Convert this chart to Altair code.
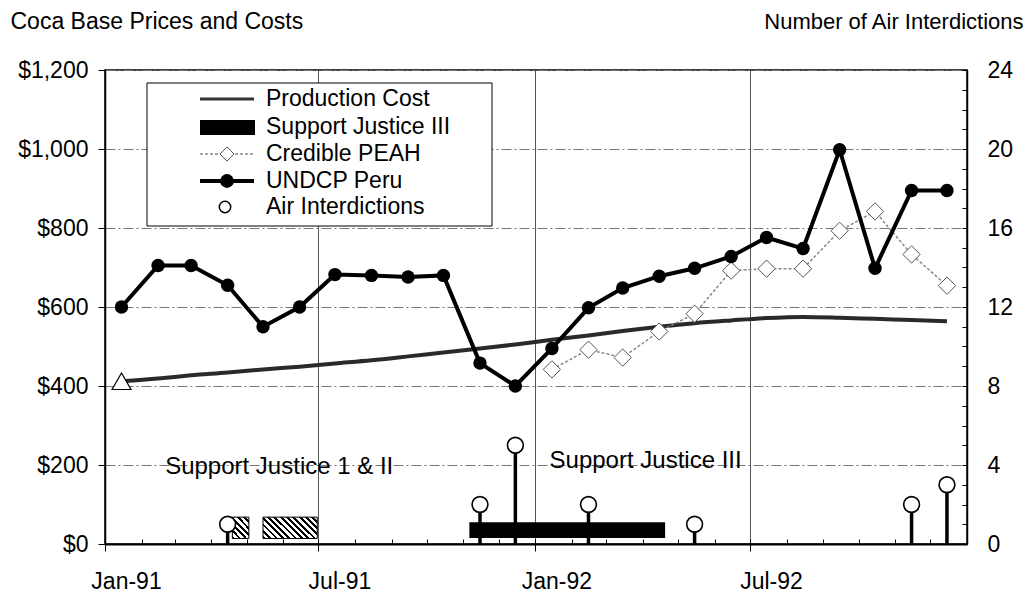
import altair as alt
import pandas as pd

FONT = "Liberation Sans"

# ---------------- data ----------------
months = ["1991-01-15", "1991-02-15", "1991-03-15", "1991-04-15", "1991-05-15", "1991-06-15",
          "1991-07-15", "1991-08-15", "1991-09-15", "1991-10-15", "1991-11-15", "1991-12-15",
          "1992-01-15", "1992-02-15", "1992-03-15", "1992-04-15", "1992-05-15", "1992-06-15",
          "1992-07-15", "1992-08-15", "1992-09-15", "1992-10-15", "1992-11-15", "1992-12-15"]
production_cost = [412, 419, 427, 434, 442, 449, 457, 465, 475, 485, 495, 505,
                   517, 528, 539, 550, 559, 566, 572, 575, 573, 570, 567, 564]
undcp_peru = [600, 705, 705, 655, 550, 600, 682, 680, 676, 680, 458, 400,
              495, 598, 648, 678, 698, 728, 776, 748, 998, 698, 895, 895]
peah_months = months[12:]
credible_peah = [442, 492, 472, 538, 583, 692, 697, 697, 793, 842, 733, 654]

air_months = ["1991-04-15", "1991-11-15", "1991-12-15", "1992-02-15", "1992-05-15",
              "1992-11-15", "1992-12-15"]
air_counts = [1, 2, 5, 2, 1, 2, 3]

sj12_start = ["1991-04-19", "1991-05-15"]
sj12_end = ["1991-05-03", "1991-06-30"]
sj12_low = [14, 14]
sj12_high = [68, 68]

sj3_start = ["1991-11-06"]
sj3_end = ["1992-04-20"]
sj3_low = [15]
sj3_high = [55]

ann_text = ["Support Justice 1 & II", "Support Justice III"]
ann_date = ["1991-02-21", "1992-01-13"]
ann_value = [195, 210]

legend_labels = ["Production Cost", "Support Justice III", "Credible PEAH", "UNDCP Peru", "Air Interdictions"]

price_ticks = [0, 200, 400, 600, 800, 1000, 1200]
count_labels = [0, 4, 8, 12, 16, 20, 24]
count_ticks = list(range(0, 25))

# ---------------- tables ----------------
df_main = pd.DataFrame({"date": months, "cost": production_cost, "undcp": undcp_peru})
df_tri = df_main.iloc[[0]]
df_peah = pd.DataFrame({"date": peah_months, "peah": credible_peah})
df_air = pd.DataFrame({"date": air_months, "count": air_counts})
df_sj1 = pd.DataFrame({"start": sj12_start[:1], "end": sj12_end[:1], "low": sj12_low[:1], "high": sj12_high[:1]})
df_sj2 = pd.DataFrame({"start": sj12_start[1:], "end": sj12_end[1:], "low": sj12_low[1:], "high": sj12_high[1:]})
df_sj3 = pd.DataFrame({"start": sj3_start, "end": sj3_end, "low": sj3_low, "high": sj3_high})
df_ann = pd.DataFrame({"date": ann_date, "value": ann_value, "text": ann_text})
one = pd.DataFrame({"k": [0]})


def dt(y, m, d=1):
    return alt.DateTime(year=y, month=m, date=d, utc=True)


x_scale = alt.Scale(type="utc", domain=[dt(1991, 1), dt(1993, 1)])

main_x_axis = alt.Axis(
    values=[dt(1991, 1), dt(1991, 7), dt(1992, 1), dt(1992, 7)],
    format="%b-%y", title=None, labelFontSize=23, labelFont=FONT, labelColor="black",
    labelOffset=21, labelPadding=19, tickSize=7, tickColor="black", tickWidth=1,
    domainColor="black", domainWidth=2, grid=True, gridColor="#555", gridWidth=1,
    labelFlush=False, labelOverlap=False,
)
minor_x_axis = alt.Axis(
    orient="top", offset=-474,
    values=[dt(1991 + (i // 12), (i % 12) + 1) for i in range(1, 24)],
    labels=False, domain=False, grid=False, ticks=True, tickSize=5,
    tickColor="black", tickWidth=1, title=None,
)

X = alt.X("date:T", scale=x_scale, axis=main_x_axis)
Xm = alt.X("date:T", scale=x_scale, axis=minor_x_axis)

y_price_scale = alt.Scale(domain=[0, 1200], nice=False)
price_axis = alt.Axis(
    values=price_ticks, format="$,.0f", labelFontSize=23, labelFont=FONT, labelColor="black",
    labelPadding=10, tickSize=7, tickColor="black", domainColor="black", domainWidth=1.5,
    grid=True, gridColor="#777", gridDash=[10, 3, 2, 3], gridWidth=1,
    title="Coca Base Prices and Costs", titleAngle=0, titleX=-95, titleY=-42,
    titleAlign="left", titleBaseline="alphabetic", titleFontSize=23, titleFont=FONT,
    titleFontWeight="normal", titleColor="black",
)
Yp = lambda f: alt.Y(f, scale=y_price_scale, axis=price_axis)

y_count_scale = alt.Scale(domain=[0, 24], nice=False)
count_axis = alt.Axis(
    orient="right", values=count_labels, ticks=False, labelPadding=20, labelAlign="left",
    labelFontSize=23, labelFont=FONT, labelColor="black", domainColor="black", domainWidth=1.5,
    grid=False, title="Number of Air Interdictions", titleAngle=0, titleX=56, titleY=-42,
    titleAlign="right", titleBaseline="alphabetic", titleFontSize=22, titleFont=FONT,
    titleFontWeight="normal", titleColor="black",
)
count_tick_axis = alt.Axis(
    orient="left", offset=-862, values=count_ticks, labels=False, domain=False, grid=False,
    ticks=True, tickSize=5, tickColor="black", title=None,
)


def hatch(W, H, period=6.0, black=0.45):
    c = (W + H) / (W * W + H * H)
    n = max(1, round((W + H) / period))
    stops = []
    for i in range(n):
        a, b, e = i / n, (i + black) / n, (i + 1) / n
        stops += [alt.GradientStop(offset=a, color="black"), alt.GradientStop(offset=b, color="black"),
                  alt.GradientStop(offset=b, color="white"), alt.GradientStop(offset=e, color="white")]
    return alt.LinearGradient(gradient="linear", stops=stops, x1=0, y1=1, x2=c * W, y2=1 - c * H)


# ---------------- price layers ----------------
sj1 = alt.Chart(df_sj1).mark_rect(fill=hatch(17, 21), stroke="black", strokeWidth=1).encode(
    x=alt.X("start:T", scale=x_scale, axis=main_x_axis), x2="end:T",
    y=alt.Y("low:Q", scale=y_price_scale, axis=price_axis), y2="high:Q")
sj2 = alt.Chart(df_sj2).mark_rect(fill=hatch(53, 21), stroke="black", strokeWidth=1).encode(
    x=alt.X("start:T", scale=x_scale, axis=main_x_axis), x2="end:T",
    y=alt.Y("low:Q", scale=y_price_scale, axis=price_axis), y2="high:Q")
sj3 = alt.Chart(df_sj3).mark_rect(color="black").encode(
    x=alt.X("start:T", scale=x_scale, axis=main_x_axis), x2="end:T",
    y=alt.Y("low:Q", scale=y_price_scale, axis=price_axis), y2="high:Q")

cost_line = alt.Chart(df_main).mark_line(color="#2a2a2a", strokeWidth=4, interpolate="monotone").encode(
    x=X, y=Yp("cost:Q"))
cost_tri = alt.Chart(df_tri).mark_point(shape="triangle-up", size=360, filled=True, fill="white",
                                        stroke="black", strokeWidth=1.2, opacity=1).encode(
    x=X, y=Yp("cost:Q"))
peah_line = alt.Chart(df_peah).mark_line(color="#888", strokeWidth=1.5, strokeDash=[3, 2]).encode(
    x=X, y=Yp("peah:Q"))
peah_pts = alt.Chart(df_peah).mark_point(shape="diamond", size=300, filled=True, fill="white",
                                         stroke="#555", strokeWidth=1, opacity=1).encode(
    x=X, y=Yp("peah:Q"))
undcp_line = alt.Chart(df_main).mark_line(color="black", strokeWidth=4).encode(
    x=X, y=Yp("undcp:Q"))
undcp_pts = alt.Chart(df_main).mark_circle(color="black", size=180, opacity=1).encode(
    x=X, y=Yp("undcp:Q"))
ann = alt.Chart(df_ann).mark_text(align="left", baseline="middle", font=FONT, fontSize=24,
                                  color="black").encode(
    x=X, y=Yp("value:Q"), text="text:N")

price = alt.layer(sj1, sj2, sj3, cost_line, cost_tri, peah_line, peah_pts, undcp_line, undcp_pts, ann)

# ---------------- interdiction layers ----------------
stems = alt.Chart(df_air).mark_rule(color="black", strokeWidth=3.5).encode(
    x=Xm, y=alt.Y("count:Q", scale=y_count_scale, axis=count_axis), y2=alt.datum(0))
circles = alt.Chart(df_air).mark_point(shape="circle", size=250, filled=True, fill="white",
                                       stroke="black", strokeWidth=1.6, opacity=1).encode(
    x=Xm, y=alt.Y("count:Q", scale=y_count_scale, axis=count_tick_axis))
inter = alt.layer(stems, circles).resolve_axis(y="independent")

# ---------------- legend ----------------
LX0, LX1, LY0, LY1 = 42, 387, 13, 156
rows = [29, 57, 84, 111, 137]
sx0, sx1, sxc = 95, 149, 122
leg = [
    alt.Chart(one).mark_rect(fill="white", stroke="black", strokeWidth=1).encode(
        x=alt.value(LX0), x2=alt.value(LX1), y=alt.value(LY0), y2=alt.value(LY1)),
    alt.Chart(one).mark_rule(color="#333", strokeWidth=3).encode(
        x=alt.value(sx0), x2=alt.value(sx1), y=alt.value(rows[0])),
    alt.Chart(one).mark_rect(color="black").encode(
        x=alt.value(sx0), x2=alt.value(sx1 + 1), y=alt.value(rows[1] - 7), y2=alt.value(rows[1] + 8)),
    alt.Chart(one).mark_rule(color="#888", strokeWidth=1.5, strokeDash=[3, 2]).encode(
        x=alt.value(sx0), x2=alt.value(sx1), y=alt.value(rows[2])),
    alt.Chart(one).mark_point(shape="diamond", size=200, filled=True, fill="white", stroke="#555",
                              strokeWidth=1, opacity=1).encode(x=alt.value(sxc), y=alt.value(rows[2])),
    alt.Chart(one).mark_rule(color="black", strokeWidth=4).encode(
        x=alt.value(sx0), x2=alt.value(sx1), y=alt.value(rows[3])),
    alt.Chart(one).mark_circle(color="black", size=190, opacity=1).encode(
        x=alt.value(sxc), y=alt.value(rows[3])),
    alt.Chart(one).mark_point(shape="circle", size=130, filled=True, fill="white", stroke="black",
                              strokeWidth=1.5, opacity=1).encode(x=alt.value(sxc - 2), y=alt.value(rows[4])),
]
for lab, ry in zip(legend_labels, rows):
    leg.append(alt.Chart(one).mark_text(align="left", baseline="middle", font=FONT, fontSize=23,
                                        color="black", text=lab).encode(
        x=alt.value(161), y=alt.value(ry)))

chart = alt.layer(price, inter, *leg).resolve_scale(y="independent").resolve_axis(x="independent")
chart = chart.properties(
    width=862, height=474,
    autosize=alt.AutoSizeParams(type="none"),
    padding={"left": 97, "top": 62, "right": 57, "bottom": 52},
    background="white",
).configure(font=FONT).configure_view(stroke="black", strokeWidth=1.5)

chart.save("out.html", embed_options={"renderer": "svg", "actions": False})
